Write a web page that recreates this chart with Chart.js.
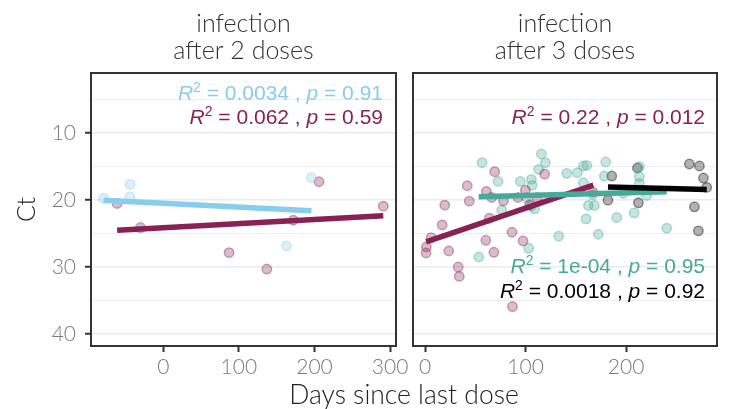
<!DOCTYPE html>
<html><head><meta charset="utf-8">
<script src="https://cdn.jsdelivr.net/npm/chart.js@4"></script>
<style>
html,body{margin:0;padding:0;background:#fff;}
#wrap{position:relative;width:729px;height:409px;overflow:hidden;}
.pane{position:absolute;left:0;top:0;width:729px;height:409px;}
</style></head><body>
<div id="wrap">
<div class="pane"><canvas id="leftChart"></canvas></div>
<div class="pane"><canvas id="rightChart"></canvas></div>
</div>
<script>
// ---------- data ----------
const panelTitles = [["infection", "after 2 doses"], ["infection", "after 3 doses"]];
const xAxisTitle = "Days since last dose";
const yAxisTitle = "Ct";
const yMajorTicks = [10, 20, 30, 40];
const yMinorTicks = [5, 15, 25, 35];
const xTicksLeft = [0, 100, 200, 300];
const xTicksRight = [0, 100, 200];

// panel 1: infection after 2 doses
const p2CyanDays = [-79, -44, -44, -30, 163, 196];
const p2CyanCt   = [19.75, 17.65, 19.5, 24.2, 26.85, 16.65];
const p2WineDays = [-61, -30, 87, 137, 172, 206, 291];
const p2WineCt   = [20.5, 24.1, 27.85, 30.3, 23.0, 17.25, 20.9];
const p2CyanFitDays = [-79, 196];
const p2CyanFitCt   = [20.0, 21.6];
const p2WineFitDays = [-61, 291];
const p2WineFitCt   = [24.5, 22.35];
const p2R2 = ["0.0034", "0.062"];
const p2P  = ["0.91", "0.59"];

// panel 2: infection after 3 doses
const p3WineDays = [1, 1.3, 6, 17, 19.6, 23.6, 33, 34, 42, 44, 60.5, 61, 64, 66.3, 68.5, 69.3, 78, 86.5, 87, 92.5, 97.5, 99.8, 104, 111.5, 119, 167];
const p3WineCt   = [27.9, 27.0, 25.6, 23.7, 20.75, 27.6, 30.0, 31.4, 17.85, 20.15, 26.0, 18.7, 22.7, 19.6, 27.8, 15.75, 20.1, 24.8, 35.9, 19.6, 26.1, 18.5, 20.7, 19.6, 16.1, 18.8];
const p3TealDays = [53.4, 56.7, 72.6, 76.3, 94.8, 100.8, 103.2, 105.5, 105.8, 106.5, 109, 113, 115.7, 119.7, 133, 141, 151.5, 157.5, 161, 157.5, 166.8, 162.5, 168.5, 160.2, 172.4, 178.4, 179.8, 190.7, 197.3, 208, 213.2, 213.2, 213.2, 220.6, 240.5];
const p3TealCt   = [28.5, 14.4, 17.2, 21.5, 17.2, 19.6, 27.2, 20.9, 16.9, 17.8, 21.3, 15.4, 13.1, 14.4, 25.4, 16.0, 15.9, 14.9, 14.8, 17.4, 19.2, 20.8, 20.8, 22.8, 25.1, 16.4, 14.3, 22.6, 19.0, 21.9, 15.0, 16.5, 17.5, 19.3, 24.2];
const p3BlackDays = [182, 185.8, 211.3, 212.3, 263, 268, 272, 273, 277, 280.3];
const p3BlackCt   = [20.0, 16.4, 15.2, 20.4, 14.6, 21.0, 24.6, 14.9, 16.7, 18.1];
const p3WineFitDays  = [1, 167.5];
const p3WineFitCt    = [26.25, 17.75];
const p3TealFitDays  = [53.4, 240.5];
const p3TealFitCt    = [19.5, 18.75];
const p3BlackFitDays = [182, 280.3];
const p3BlackFitCt   = [18.05, 18.4];
const p3R2 = ["0.22", "1e-04", "0.0018"];
const p3P  = ["0.012", "0.95", "0.92"];

// ---------- styling / layout ----------
const COL = {cyan: '#88CCEE', wine: '#882255', teal: '#44AA99', black: '#000000'};
const LAYOUT = {W: 729, H: 409, top: 73, bottom: 346, left: [91, 396], right: [413, 717]};
const LIGHT = '"Lato", "Roboto", "Liberation Sans", sans-serif';
const REG = '"Liberation Sans", Arial, sans-serif';

function rgba(hex, a) {
  const n = parseInt(hex.slice(1), 16);
  return `rgba(${(n >> 16) & 255},${(n >> 8) & 255},${n & 255},${a})`;
}
function pts(xs, ys) { return xs.map((x, i) => ({x: x, y: ys[i]})); }
function scatterDS(xs, ys, col) {
  return {data: pts(xs, ys), pointRadius: 4.7, pointHoverRadius: 4.7, pointBorderWidth: 1.5,
    backgroundColor: rgba(col, 0.3), borderColor: rgba(col, 0.4), showLine: false, order: 10};
}
function fitDS(xs, ys, col, order) {
  return {data: pts(xs, ys), showLine: true, borderColor: col, borderWidth: 5.5, pointRadius: 0,
    pointHoverRadius: 0, fill: false, tension: 0, borderCapStyle: 'butt', order: order};
}

function drawStat(ctx, xRight, yBase, r2, p, color) {
  const main = '21px ' + REG, ital = 'italic 21px ' + REG, sup = '14px ' + REG;
  const pieces = [['R', ital, 0], ['2', sup, -8], [' = ' + r2 + ' , ', main, 0], ['p', ital, 0], [' = ' + p, main, 0]];
  let total = 0;
  pieces.forEach(pc => { ctx.font = pc[1]; pc.w = ctx.measureText(pc[0]).width; total += pc.w; });
  let x = xRight - total;
  ctx.fillStyle = color; ctx.textAlign = 'left'; ctx.textBaseline = 'alphabetic';
  pieces.forEach(pc => { ctx.font = pc[1]; ctx.fillText(pc[0], x, yBase + pc[2]); x += pc.w; });
}

const panelPlugin = {
  id: 'panelDeco',
  afterDatasetsDraw(chart) {
    const o = chart.options.plugins.panelDeco;
    const ctx = chart.ctx, a = chart.chartArea;
    ctx.save();
    o.stats.forEach(s => {
      const x = chart.scales.x.getPixelForValue(o.labelX);
      const y = chart.scales.y.getPixelForValue(s.ct);
      drawStat(ctx, x, y, s.r2, s.p, s.color);
    });
    ctx.strokeStyle = '#333333'; ctx.lineWidth = 2;
    ctx.strokeRect(a.left, a.top, a.right - a.left, a.bottom - a.top);
    ctx.fillStyle = '#333333'; ctx.font = '300 25px ' + LIGHT;
    ctx.textAlign = 'center'; ctx.textBaseline = 'alphabetic';
    const cx = (a.left + a.right) / 2;
    ctx.fillText(o.title[0], cx, a.top - 41.3);
    ctx.fillText(o.title[1], cx, a.top - 13.7);
    if (o.xTitle) {
      ctx.fillStyle = '#222222'; ctx.font = '300 26.5px ' + LIGHT;
      ctx.fillText(o.xTitle, (LAYOUT.left[0] + LAYOUT.right[1]) / 2, 404);
    }
    ctx.restore();
  }
};

function makeChart(id, cfg) {
  const isLeft = cfg.isLeft;
  const yTickVals = yMajorTicks.concat(yMinorTicks).sort((a, b) => a - b);
  return new Chart(document.getElementById(id), {
    type: 'scatter',
    data: {datasets: cfg.datasets},
    plugins: [panelPlugin],
    options: {
      responsive: true, maintainAspectRatio: false, animation: false,
      events: [],
      layout: {padding: {left: cfg.padLeft, right: cfg.padRight, top: LAYOUT.top, bottom: 0}},
      plugins: {
        legend: {display: false}, tooltip: {enabled: false},
        panelDeco: {stats: cfg.stats, labelX: cfg.labelX, title: cfg.title, xTitle: cfg.xTitle}
      },
      scales: {
        x: {
          type: 'linear', min: cfg.xMin, max: cfg.xMax,
          afterBuildTicks: s => { s.ticks = cfg.xTicks.map(v => ({value: v})); },
          afterFit: s => { s.height = LAYOUT.H - LAYOUT.bottom; },
          border: {display: false},
          grid: {drawOnChartArea: false, drawTicks: true, tickLength: 6, tickWidth: 2, tickColor: '#333333'},
          ticks: {color: '#7a7a7a', font: {family: LIGHT, size: 21, weight: 300}, padding: 3, maxRotation: 0, autoSkip: false}
        },
        y: {
          type: 'linear', min: 1, max: 41.8, reverse: true,
          afterBuildTicks: s => { s.ticks = yTickVals.map(v => ({value: v})); },
          afterFit: s => { s.width = isLeft ? LAYOUT.left[0] : 0; },
          border: {display: false},
          grid: {
            color: '#EBEBEB',
            lineWidth: c => (c.tick && yMajorTicks.includes(c.tick.value)) ? 1.5 : 0.8,
            drawTicks: isLeft, tickLength: 6, tickWidth: 2,
            tickColor: c => (c.tick && yMajorTicks.includes(c.tick.value)) ? '#333333' : 'rgba(0,0,0,0)'
          },
          ticks: {
            display: isLeft, color: '#7a7a7a', font: {family: LIGHT, size: 21, weight: 300}, padding: 9,
            autoSkip: false,
            callback: v => yMajorTicks.includes(v) ? String(v) : ''
          },
          title: {display: isLeft, text: yAxisTitle, color: '#222222',
            font: {family: LIGHT, size: 25, weight: 300}, padding: {top: 12, bottom: 0}}
        }
      }
    }
  });
}

makeChart('leftChart', {
  isLeft: true, padLeft: 0, padRight: LAYOUT.W - LAYOUT.left[1],
  xMin: -95.6, xMax: 307.8, xTicks: xTicksLeft, title: panelTitles[0], xTitle: xAxisTitle,
  labelX: 290.6,
  stats: [
    {r2: p2R2[0], p: p2P[0], ct: 5.0, color: COL.cyan},
    {r2: p2R2[1], p: p2P[1], ct: 8.65, color: COL.wine}
  ],
  datasets: [
    fitDS(p2CyanFitDays, p2CyanFitCt, COL.cyan, 2),
    fitDS(p2WineFitDays, p2WineFitCt, COL.wine, 1),
    scatterDS(p2CyanDays, p2CyanCt, COL.cyan),
    scatterDS(p2WineDays, p2WineCt, COL.wine)
  ]
});

makeChart('rightChart', {
  isLeft: false, padLeft: LAYOUT.right[0], padRight: LAYOUT.W - LAYOUT.right[1],
  xMin: -12, xMax: 290.5, xTicks: xTicksRight, title: panelTitles[1], xTitle: null,
  labelX: 278.6,
  stats: [
    {r2: p3R2[0], p: p3P[0], ct: 8.65, color: COL.wine},
    {r2: p3R2[1], p: p3P[1], ct: 30.9, color: COL.teal},
    {r2: p3R2[2], p: p3P[2], ct: 34.65, color: COL.black}
  ],
  datasets: [
    fitDS(p3WineFitDays, p3WineFitCt, COL.wine, 3),
    fitDS(p3TealFitDays, p3TealFitCt, COL.teal, 2),
    fitDS(p3BlackFitDays, p3BlackFitCt, COL.black, 1),
    scatterDS(p3WineDays, p3WineCt, COL.wine),
    scatterDS(p3TealDays, p3TealCt, COL.teal),
    scatterDS(p3BlackDays, p3BlackCt, COL.black)
  ]
});
</script>
</body></html>
